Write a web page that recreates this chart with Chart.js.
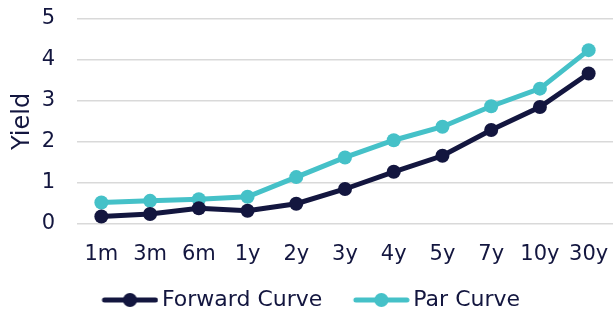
<!DOCTYPE html>
<html>
<head>
<meta charset="utf-8">
<script src="https://cdn.jsdelivr.net/npm/chart.js@4/dist/chart.umd.min.js"></script>
<style>
  html, body { margin: 0; padding: 0; background: #ffffff; }
  #wrap { width: 613px; height: 316px; position: relative; }
</style>
</head>
<body>
<div id="wrap"><canvas id="yieldChart"></canvas></div>
<script>
// ---- Data ----
const tenors = ["1m", "3m", "6m", "1y", "2y", "3y", "4y", "5y", "7y", "10y", "30y"];
const forwardCurve = [0.18, 0.24, 0.38, 0.32, 0.49, 0.85, 1.27, 1.66, 2.29, 2.85, 3.67];
const parCurve = [0.52, 0.56, 0.60, 0.66, 1.14, 1.62, 2.04, 2.37, 2.87, 3.30, 4.24];
const yTicks = [0, 1, 2, 3, 4, 5];

const NAVY = "#13163f";
const TEAL = "#45c1c8";
const FONT = "'DejaVu Sans', sans-serif";

// legend swatch: line with a dot in the middle (transparent space on the left)
function legendSwatch(color) {
  const c = document.createElement("canvas");
  c.width = 73;
  c.height = 16;
  const g = c.getContext("2d");
  g.strokeStyle = color;
  g.lineWidth = 5;
  g.lineCap = "round";
  g.beginPath();
  g.moveTo(19, 8);
  g.lineTo(70, 8);
  g.stroke();
  g.fillStyle = color;
  g.beginPath();
  g.arc(44.5, 8, 7, 0, Math.PI * 2);
  g.fill();
  return c;
}

const ctx = document.getElementById("yieldChart");

new Chart(ctx, {
  type: "line",
  data: {
    labels: tenors,
    datasets: [
      {
        label: "Forward Curve",
        data: forwardCurve,
        borderColor: NAVY,
        backgroundColor: NAVY,
        borderWidth: 5,
        pointStyle: "circle",
        pointRadius: 7,
        pointHoverRadius: 7,
        pointBackgroundColor: NAVY,
        pointBorderWidth: 0,
        tension: 0,
        clip: false,
      },
      {
        label: "Par Curve",
        data: parCurve,
        borderColor: TEAL,
        backgroundColor: TEAL,
        borderWidth: 5,
        pointStyle: "circle",
        pointRadius: 7,
        pointHoverRadius: 7,
        pointBackgroundColor: TEAL,
        pointBorderWidth: 0,
        tension: 0,
        clip: false,
      },
    ],
  },
  options: {
    responsive: true,
    maintainAspectRatio: false,
    animation: false,
    layout: {
      autoPadding: false,
      padding: { left: 0, right: 0, top: 0, bottom: -5 },
    },
    scales: {
      x: {
        offset: true,
        // invisible tick marks give the gap between plot and labels
        grid: { display: false, drawTicks: true, tickLength: 18 },
        border: { display: false },
        afterFit: (axis) => {
          axis.paddingLeft = 0;
          axis.paddingRight = 0;
        },
        ticks: {
          color: NAVY,
          font: { family: FONT, size: 21 },
          padding: 0,
          maxRotation: 0,
          autoSkip: false,
        },
      },
      y: {
        min: 0,
        max: 5,
        afterBuildTicks: (axis) => {
          axis.ticks = yTicks.map((v) => ({ value: v }));
        },
        afterFit: (axis) => {
          axis.width = 77;
          axis.paddingTop = 19;
        },
        grid: {
          color: "#d9d9d9",
          lineWidth: 1.5,
          drawTicks: true,
          tickLength: 22,
          tickColor: "rgba(0,0,0,0)",
        },
        border: { display: false },
        ticks: {
          color: NAVY,
          font: { family: FONT, size: 21 },
          padding: 0,
        },
        title: {
          display: true,
          text: "Yield",
          color: NAVY,
          font: { family: FONT, size: 24 },
          padding: { top: 8, bottom: 0 },
        },
      },
    },
    plugins: {
      legend: {
        position: "bottom",
        labels: {
          usePointStyle: true,
          pointStyleWidth: 58,
          color: NAVY,
          font: { family: FONT, size: 22 },
          padding: 22,
          generateLabels: (chart) =>
            chart.data.datasets.map((ds, i) => ({
              text: ds.label,
              fontColor: NAVY,
              pointStyle: legendSwatch(ds.borderColor),
              datasetIndex: i,
              lineWidth: 0,
              strokeStyle: "transparent",
              fillStyle: ds.borderColor,
            })),
        },
      },
      tooltip: { enabled: false },
    },
  },
});
</script>
</body>
</html>
